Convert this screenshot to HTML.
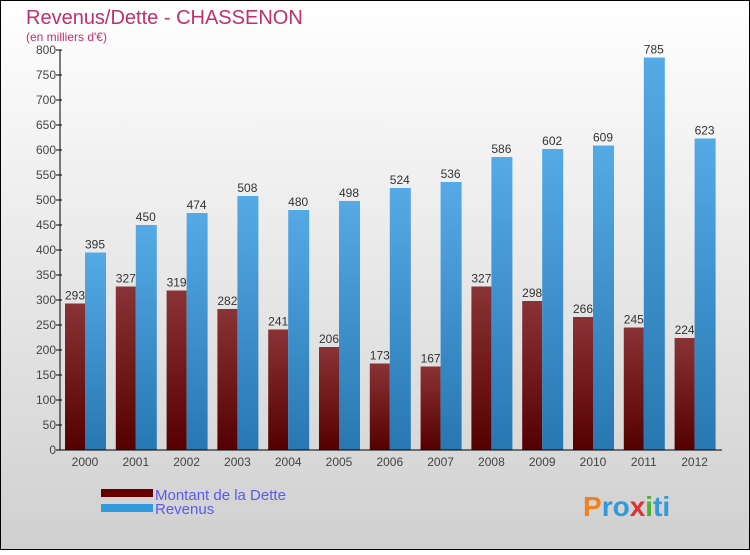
<!DOCTYPE html>
<html><head><meta charset="utf-8"><style>
body{margin:0}
svg text{font-family:"Liberation Sans",sans-serif}
</style></head><body>
<svg width="750" height="550" xmlns="http://www.w3.org/2000/svg">
<defs>
<linearGradient id="bg" x1="0" y1="0" x2="0" y2="1"><stop offset="0" stop-color="#ffffff"/><stop offset="1" stop-color="#d0d0d0"/></linearGradient>
<linearGradient id="gd" x1="0" y1="0" x2="0" y2="1"><stop offset="0" stop-color="#8a3336"/><stop offset="1" stop-color="#550000"/></linearGradient>
<linearGradient id="gr" x1="0" y1="0" x2="0" y2="1"><stop offset="0" stop-color="#55aae6"/><stop offset="1" stop-color="#2777b2"/></linearGradient>
</defs>
<rect x="0.5" y="0.5" width="749" height="549" fill="url(#bg)" stroke="#000"/>
<text x="26" y="24" font-size="20" fill="#c0306a">Revenus/Dette - CHASSENON</text>
<text x="26" y="41" font-size="12" fill="#c0306a">(en milliers d'€)</text>
<g id="yaxis"></g>
<g id="bars"></g>
<g id="xaxis"></g>
<g>
<rect x="101" y="489" width="52" height="8" fill="#660000"/>
<text x="155" y="500" font-size="15" fill="#5a5aee">Montant de la Dette</text>
<rect x="101" y="504" width="52" height="8" fill="#3399dd"/>
<text x="155" y="514" font-size="15" fill="#5a5aee">Revenus</text>
</g>
<text x="583" y="516" font-size="28" font-weight="bold" fill="#3399dd"><tspan fill="#f08020">P</tspan><tspan fill="#3399dd">ro</tspan><tspan fill="#e03030">x</tspan><tspan fill="#50b030">i</tspan><tspan fill="#3399dd">ti</tspan></text>
</svg>
<script>
const years=["2000","2001","2002","2003","2004","2005","2006","2007","2008","2009","2010","2011","2012"];
const dette=[293,327,319,282,241,206,173,167,327,298,266,245,224];
const revenus=[395,450,474,508,480,498,524,536,586,602,609,785,623];
const yTicks=[0,50,100,150,200,250,300,350,400,450,500,550,600,650,700,750,800];
const NS="http://www.w3.org/2000/svg";
const x0=60,y0=450,ymax=800,ppu=400/ymax,step=50.8;
const y=v=>y0-v*ppu;
const gx=i=>x0+5+i*step;
function mk(t,a,p,txt){const e=document.createElementNS(NS,t);for(const k in a)e.setAttribute(k,a[k]);if(txt!==undefined)e.textContent=txt;p.appendChild(e);return e;}
const ya=document.getElementById('yaxis'),ba=document.getElementById('bars'),xa=document.getElementById('xaxis');
const ax=mk('line',{x1:x0,y1:y(ymax),x2:x0,y2:y0,stroke:'#000'},ya);


yTicks.forEach(t=>{
 const l=mk('line',{x1:x0-4,y1:y(t),x2:x0+2,y2:y(t),stroke:'#000'},ya);
 
 
 const tx=mk('text',{x:x0-4,y:y(t)+4,'font-size':12,'text-anchor':'end',fill:'#444'},ya,t);
 
 
});
years.forEach((yr,i)=>{
 const xs=gx(i);
 const d=mk('rect',{x:xs,y:y(dette[i]),width:20,height:dette[i]*ppu,fill:'url(#gd)'},ba);
 
 
 const r=mk('rect',{x:xs+20,y:y(revenus[i]),width:21,height:revenus[i]*ppu,fill:'url(#gr)'},ba);
 
 
 const dl=mk('text',{x:xs+10,y:y(dette[i])-4,'font-size':12,'text-anchor':'middle',fill:'#333'},ba,dette[i]);
 
 
 const rl=mk('text',{x:xs+30,y:y(revenus[i])-4,'font-size':12,'text-anchor':'middle',fill:'#333'},ba,revenus[i]);
 
 
 const xl=mk('text',{x:xs+20,y:y0+16,'font-size':12,'text-anchor':'middle',fill:'#444'},xa,yr);
 
 
});
const bl=mk('line',{x1:x0,y1:y0,x2:722,y2:y0,stroke:'#000'},xa);


</script>
</body></html>
